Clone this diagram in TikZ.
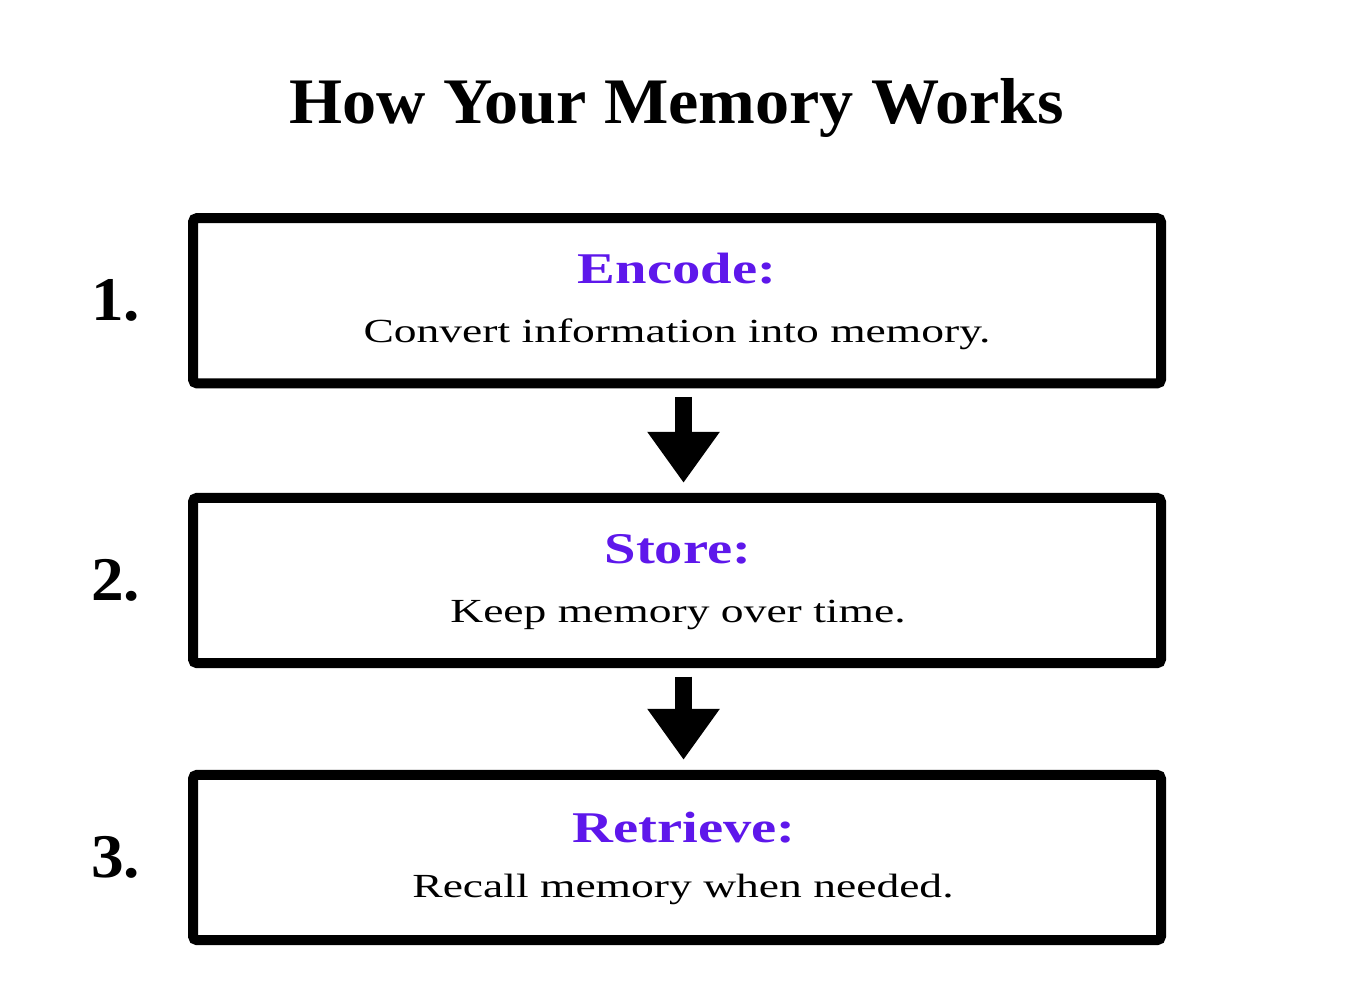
\documentclass[tikz,border=0pt]{standalone}
\usepackage{fontspec}
\setmainfont{Liberation Serif}[FakeStretch=1.35]
\newfontfamily\headfont{Liberation Serif}[FakeStretch=1.29]
\newfontfamily\titlefont{Liberation Serif}[FakeStretch=1.05]
\usetikzlibrary{arrows.meta}
\definecolor{stepviolet}{RGB}{94,23,235}
\begin{document}
\begin{tikzpicture}[x=0.75pt,y=-0.75pt,
    stepbox/.style={draw,line width=7.5pt,rounded corners=3pt,minimum width=726pt,minimum height=124pt,inner sep=0pt},
    stephead/.style={anchor=base,text=stepviolet,font=\headfont\bfseries\fontsize{32.9}{36}\selectfont},
    steptext/.style={anchor=base,font=\fontsize{25.3}{30}\selectfont},
    stepnum/.style={anchor=base east,font=\titlefont\bfseries\fontsize{46.6}{50}\selectfont},
    flow/.style={line width=12.75pt,-{Triangle[width=51.75pt,length=38.25pt]},shorten <=6.4pt,shorten >=7.5pt}]
  \useasboundingbox (0,0) rectangle (1366,1000);
  \node[anchor=base,font=\titlefont\bfseries\fontsize{48.7}{52}\selectfont] at (677,123.3) (title) {How Your Memory Works};
  \node[stepbox] at (677,300.75) (encode) {};
  \node[stepbox] at (677,580.5) (store) {};
  \node[stepbox] at (677,857.5) (retrieve) {};
  \node[stepnum] at (145,320) (n1) {1.};
  \node[stepnum] at (145,600) (n2) {2.};
  \node[stepnum] at (145,877) (n3) {3.};
  \node[stephead] at (677,283) (h1) {Encode:};
  \node[steptext] at (677,342) (t1) {Convert information into memory.};
  \node[stephead] at (678,563) (h2) {Store:};
  \node[steptext] at (678,622) (t2) {Keep memory over time.};
  \node[stephead] at (684,842) (h3) {Retrieve:};
  \node[steptext] at (683,897) (t3) {Recall memory when needed.};
  \path[flow] ([xshift=4.9pt]encode.south) edge ([xshift=4.9pt]store.north);
  \path[flow] ([xshift=4.9pt]store.south) edge ([xshift=4.9pt]retrieve.north);
\end{tikzpicture}
\end{document}
